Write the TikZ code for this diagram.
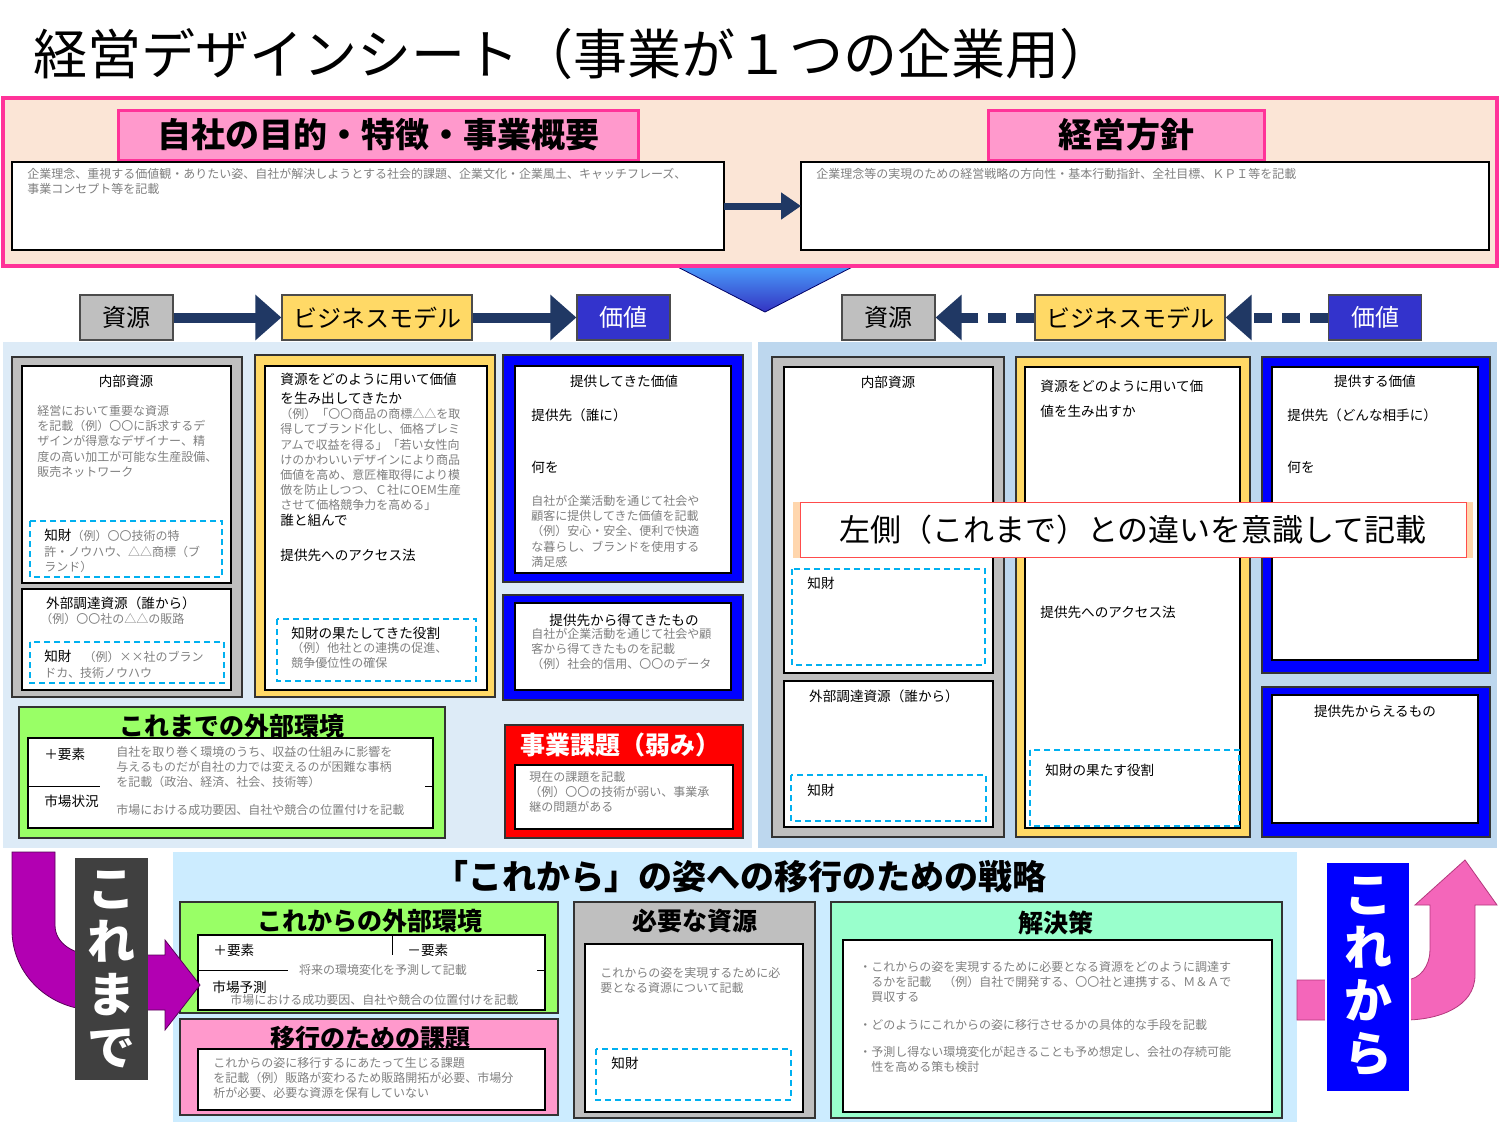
\documentclass[tikz,border=0pt]{standalone}
\usepackage{fontspec}
\setmainfont{Noto Sans CJK JP}
\usetikzlibrary{arrows.meta,shadows}
\definecolor{navy}{HTML}{203864}
\definecolor{peach}{HTML}{FBE5D6}
\definecolor{magen}{HTML}{FF3399}
\definecolor{pinkf}{HTML}{FF99CC}
\definecolor{grayf}{HTML}{BFBFBF}
\definecolor{yelf}{HTML}{FFD966}
\definecolor{valb}{HTML}{3333CC}
\definecolor{paleb}{HTML}{DDEBF7}
\definecolor{paleb2}{HTML}{BDD7EE}
\definecolor{skyb}{HTML}{CCECFF}
\definecolor{greenf}{HTML}{99FF66}
\definecolor{aquaf}{HTML}{99FFCC}
\definecolor{cyand}{HTML}{00B0F0}
\definecolor{txtg}{HTML}{808080}
\begin{document}
\begin{tikzpicture}[
  x=0.5pt,y=-0.5pt,
  wbox/.style={draw=black,fill=white,line width=0.6pt},
  fbox/.style={draw=black!80,line width=0.6pt},
  ipbox/.style={draw=cyand,dashed,line width=1pt,dash pattern=on 3pt off 2pt},
  hd/.style={font=\fontsize{6.8}{8.5}\selectfont,inner sep=0pt},
  sm/.style={font=\fontsize{6}{7.6}\selectfont,text=txtg,inner sep=0pt,anchor=north west,align=left},
  ttl/.style={font=\fontsize{12.5}{14}\selectfont\bfseries,inner sep=0pt},
  tab/.style={draw=black!70,line width=0.6pt,minimum height=22.5pt,font=\fontsize{12}{14}\selectfont,inner sep=0pt},
  navyarr/.style={navy,line width=5pt,-{Triangle[length=13pt,width=22pt]}},
]
\useasboundingbox (0,0) rectangle (1500,1125);
\fill[white] (0,0) rectangle (1500,1125);

\node[anchor=west,inner sep=0pt,font=\fontsize{27}{30}\selectfont] (title) at (33,54) {経営デザインシート（事業が１つの企業用）};

% big down arrow
\shade[top color=blue!50!cyan!70,bottom color=blue!70!black!80,draw=blue!40!black] (668,262) -- (862,262) -- (765,312) -- cycle;

% top band
\draw[magen,fill=peach,line width=2pt] (3,98) rectangle (1497,266);
\node[draw=magen,fill=pinkf,line width=1.5pt,minimum width=260pt,minimum height=25pt,font=\fontsize{17}{20}\selectfont\bfseries] (purpose) at (378,135) {自社の目的・特徴・事業概要};
\node[draw=magen,fill=pinkf,line width=1.5pt,minimum width=138pt,minimum height=25pt,font=\fontsize{17}{20}\selectfont\bfseries] (policy) at (1126,135) {経営方針};
\draw[wbox] (12,162) rectangle (724,250);
\coordinate (pl) at (724,206);
\draw[wbox] (801,162) rectangle (1489,250);
\coordinate (pr) at (801,206);
\node[sm] (ptxt) at (27,168) {企業理念、重視する価値観・ありたい姿、自社が解決しようとする社会的課題、企業文化・企業風土、キャッチフレーズ、\\事業コンセプト等を記載};
\node[sm] (poltxt) at (816,168) {企業理念等の実現のための経営戦略の方向性・基本行動指針、全社目標、ＫＰＩ等を記載};
\draw[navy,line width=3.5pt,-{Triangle[length=10pt,width=13pt]}] (pl) -- (pr);

% panels
\fill[paleb] (3,342) rectangle (752,848);
\fill[paleb2] (758,342) rectangle (1497,848);

% header tabs
\node[tab,fill=grayf,minimum width=46.5pt] (resL) at (126.5,317.5) {資源};
\node[tab,fill=yelf,minimum width=95pt] (bmL) at (377,317.5) {ビジネスモデル};
\node[tab,fill=valb,text=white,minimum width=46.5pt] (valL) at (623.5,317.5) {価値};
\node[tab,fill=grayf,minimum width=46.5pt] (resR) at (888.5,317.5) {資源};
\node[tab,fill=yelf,minimum width=95pt] (bmR) at (1130,317.5) {ビジネスモデル};
\node[tab,fill=valb,text=white,minimum width=46.5pt] (valR) at (1375,317.5) {価値};
\draw[navyarr] (resL) -- (bmL);
\draw[navyarr] (bmL) -- (valL);
\draw[navyarr,dash pattern=on 9pt off 5pt] (bmR) -- (resR);
\draw[navyarr,dash pattern=on 9pt off 5pt] (valR) -- (bmR);

% left: resources
\draw[fbox,fill=grayf] (12,357) rectangle (242,697);
\draw[wbox] (22,366) rectangle (231,583);
\draw[wbox] (22,589) rectangle (231,690);
\draw[ipbox] (30,521) rectangle (222,577);
\draw[ipbox] (30,642) rectangle (224,683);
\node[hd] (inL) at (126,381) {内部資源};
\node[sm] (inLt) at (37,405) {経営において重要な資源\\を記載（例）〇〇に訴求するデ\\ザインが得意なデザイナー、精\\度の高い加工が可能な生産設備、\\販売ネットワーク};
\node[sm] (ipL1) at (44,529) {\textcolor{black}{\fontsize{6.8}{7.6}\selectfont 知財}（例）〇〇技術の特\\許・ノウハウ、△△商標（ブ\\ランド）};
\node[hd] (exL) at (121,603) {外部調達資源（誰から）};
\node[sm] (exLt) at (40,613) {（例）〇〇社の△△の販路};
\node[sm] (ipL2) at (44,650) {\textcolor{black}{\fontsize{6.8}{7.6}\selectfont 知財}\quad（例）××社のブラン\\ドカ、技術ノウハウ};

% left: business model
\draw[fbox,fill=yelf] (255,355) rectangle (495,697);
\draw[wbox] (265,366) rectangle (487,690);
\draw[ipbox] (277,619) rectangle (476,681);
\node[hd,anchor=north west,align=left,font=\fontsize{6.8}{9.5}\selectfont] (bmLt) at (280,373) {資源をどのように用いて価値\\を生み出してきたか};
\node[sm] (bmLe) at (280,408) {（例）「〇〇商品の商標△△を取\\得してブランド化し、価格プレミ\\アムで収益を得る」「若い女性向\\けのかわいいデザインにより商品\\価値を高め、意匠権取得により模\\倣を防止しつつ、Ｃ社にOEM生産\\させて価格競争力を高める」};
\node[hd,anchor=north west] (whoL) at (280,514) {誰と組んで};
\node[hd,anchor=north west] (accL) at (280,549) {提供先へのアクセス法};
\node[hd,anchor=north west] (ipL3) at (291,627) {知財の果たしてきた役割};
\node[sm] (ipL3t) at (291,642) {（例）他社との連携の促進、\\競争優位性の確保};

% left: value
\draw[fbox,fill=blue] (503,355) rectangle (743,582);
\draw[wbox] (515,366) rectangle (731,573);
\draw[fbox,fill=blue] (503,595) rectangle (743,700);
\draw[wbox] (515,603) rectangle (731,690);
\node[hd] (vL) at (624,381) {提供してきた価値};
\node[hd,anchor=north west] (toL) at (531,408) {提供先（誰に）};
\node[hd,anchor=north west] (whatL) at (531,461) {何を};
\node[sm] (vLt) at (531,495) {自社が企業活動を通じて社会や\\顧客に提供してきた価値を記載\\（例）安心・安全、便利で快適\\な暮らし、ブランドを使用する\\満足感};
\node[hd] (gL) at (624,620) {提供先から得てきたもの};
\node[sm] (gLt) at (531,628) {自社が企業活動を通じて社会や顧\\客から得てきたものを記載\\（例）社会的信用、〇〇のデータ};

% left: environment
\draw[fbox,fill=greenf] (19,707) rectangle (445,838);
\node[ttl] (envL) at (232,726) {これまでの外部環境};
\draw[wbox] (28,738) rectangle (433,828);
\fill[white] (29,780) rectangle (432,792);
\draw (28,786) -- (100,786) (425,786) -- (433,786);
\node[hd,anchor=west] (plusL) at (44,754) {＋要素};
\node[hd,anchor=west] (mktL) at (44,801) {市場状況};
\node[sm] (envLt) at (116,746) {自社を取り巻く環境のうち、収益の仕組みに影響を\\与えるものだが自社の力では変えるのが困難な事柄\\を記載（政治、経済、社会、技術等）};
\node[sm] (mktLt) at (116,804) {市場における成功要因、自社や競合の位置付けを記載};

% left: issues
\draw[fbox,fill=red] (505,725) rectangle (743,838);
\node[ttl,text=white] (issL) at (620,745) {事業課題（弱み）};
\draw[wbox] (515,765) rectangle (733,829);
\node[sm] (issLt) at (529,771) {現在の課題を記載\\（例）〇〇の技術が弱い、事業承\\継の問題がある};

% right: resources
\draw[fbox,fill=grayf] (772,357) rectangle (1004,837);
\draw[wbox] (784,367) rectangle (993,673);
\draw[wbox] (784,681) rectangle (993,827);
\draw[ipbox] (792,569) rectangle (985,665);
\draw[ipbox] (791,775) rectangle (986,821);
\node[hd] (inR) at (888,382) {内部資源};
\node[hd,anchor=north west] (ipR1) at (807,577) {知財};
\node[hd] (exR) at (884,696) {外部調達資源（誰から）};
\node[hd,anchor=north west] (ipR2) at (807,784) {知財};

% right: business model
\draw[fbox,fill=yelf] (1016,357) rectangle (1250,837);
\draw[wbox] (1025,367) rectangle (1240,828);
\draw[ipbox] (1030,750) rectangle (1239,826);
\node[hd,anchor=north west,align=left,font=\fontsize{6.8}{12.5}\selectfont] (bmRt) at (1040,380) {資源をどのように用いて価\\値を生み出すか};
\node[hd,anchor=north west] (accR) at (1040,606) {提供先へのアクセス法};
\node[hd,anchor=north west] (ipR3) at (1045,764) {知財の果たす役割};

% right: value
\draw[fbox,fill=blue] (1262,357) rectangle (1490,673);
\draw[wbox] (1272,367) rectangle (1478,660);
\draw[fbox,fill=blue] (1262,687) rectangle (1490,837);
\draw[wbox] (1272,695) rectangle (1478,823);
\node[hd] (vR) at (1375,381) {提供する価値};
\node[hd,anchor=north west] (toR) at (1287,408) {提供先（どんな相手に）};
\node[hd,anchor=north west] (whatR) at (1287,461) {何を};
\node[hd] (gR) at (1375,711) {提供先からえるもの};

% callout
\node[draw=red!70,fill=white,drop shadow={shadow xshift=0pt,shadow yshift=0pt,fill=orange!40,opacity=0.8,shadow scale=1.02},minimum width=333pt,minimum height=27.5pt,inner sep=0pt,font=\fontsize{15.5}{18}\selectfont] (note) at (1133,530) {左側（これまで）との違いを意識して記載};

% strategy area
\fill[skyb] (173,852) rectangle (1297,1122);
\node[font=\fontsize{17}{20}\selectfont\bfseries,inner sep=0pt] (strat) at (740,877) {「これから」の姿への移行のための戦略};

\draw[fbox,fill=greenf] (180,902) rectangle (558,1013);
\node[ttl] (envF) at (370,921) {これからの外部環境};
\draw[wbox] (198,935) rectangle (545,1010);
\draw (392,935) -- (392,955);
\draw (198,970) -- (288,970) (537,970) -- (545,970);
\node[hd,anchor=west] (plusF) at (213,950) {＋要素};
\node[hd,anchor=west] (minusF) at (407,950) {－要素};
\node[sm,anchor=center] (envFt) at (383,970) {将来の環境変化を予測して記載};
\node[hd,anchor=west] (mktF) at (212,987) {市場予測};
\node[sm,anchor=west] (mktFt) at (230,1000) {市場における成功要因、自社や競合の位置付けを記載};

\draw[fbox,fill=pinkf] (180,1019) rectangle (558,1115);
\node[ttl] (trans) at (370,1038) {移行のための課題};
\draw[wbox] (198,1049) rectangle (545,1110);
\node[sm] (transt) at (213,1057) {これからの姿に移行するにあたって生じる課題\\を記載（例）販路が変わるため販路開拓が必要、市場分\\析が必要、必要な資源を保有していない};

\draw[fbox,fill=grayf] (574,902) rectangle (815,1118);
\node[ttl] (need) at (695,921) {必要な資源};
\draw[wbox] (585,944) rectangle (803,1112);
\draw[ipbox] (596,1049) rectangle (791,1100);
\node[sm] (needt) at (600,967) {これからの姿を実現するために必\\要となる資源について記載};
\node[hd,anchor=north west] (ipF) at (611,1057) {知財};

\draw[fbox,fill=aquaf] (831,902) rectangle (1282,1118);
\node[ttl] (sol) at (1056,923) {解決策};
\draw[wbox] (843,940) rectangle (1272,1112);
\node[sm] (solt) at (859,961) {・これからの姿を実現するために必要となる資源をどのように調達す\\\phantom{・}るかを記載\quad（例）自社で開発する、〇〇社と連携する、Ｍ＆Ａで\\\phantom{・}買収する\\[6pt]・どのようにこれからの姿に移行させるかの具体的な手段を記載\\[6pt]・予測し得ない環境変化が起きることも予め想定し、会社の存続可能\\\phantom{・}性を高める策も検討};

% past / future arrows
\fill[violet!60!magenta,draw=violet!70!black] (12,852) -- (55,852) -- (55,925) to[out=-90,in=180] (95,955) -- (165,955) -- (165,940) -- (200,985) -- (165,1030) -- (165,1010) -- (95,1010) to[out=180,in=-90] (12,930) -- cycle;
\node[fill=black!75,minimum width=36.5pt,minimum height=111pt,inner sep=0pt,text=white,font=\fontsize{24}{26.5}\selectfont\bfseries,align=center] (past) at (111.5,969) {こ\\れ\\ま\\で};
\fill[magenta!60,draw=magenta!70!black] (1297,980) -- (1405,980) to[out=0,in=-90] (1430,950) -- (1430,905) -- (1415,905) -- (1465,860) -- (1497,905) -- (1475,905) -- (1475,975) to[out=-90,in=0] (1405,1020) -- (1297,1020) -- cycle;
\node[draw=white,line width=1pt,fill=blue,minimum width=42pt,minimum height=115pt,inner sep=0pt,text=white,font=\fontsize{24}{26.5}\selectfont\bfseries,align=center] (future) at (1368,977) {こ\\れ\\か\\ら};
\end{tikzpicture}
\end{document}
